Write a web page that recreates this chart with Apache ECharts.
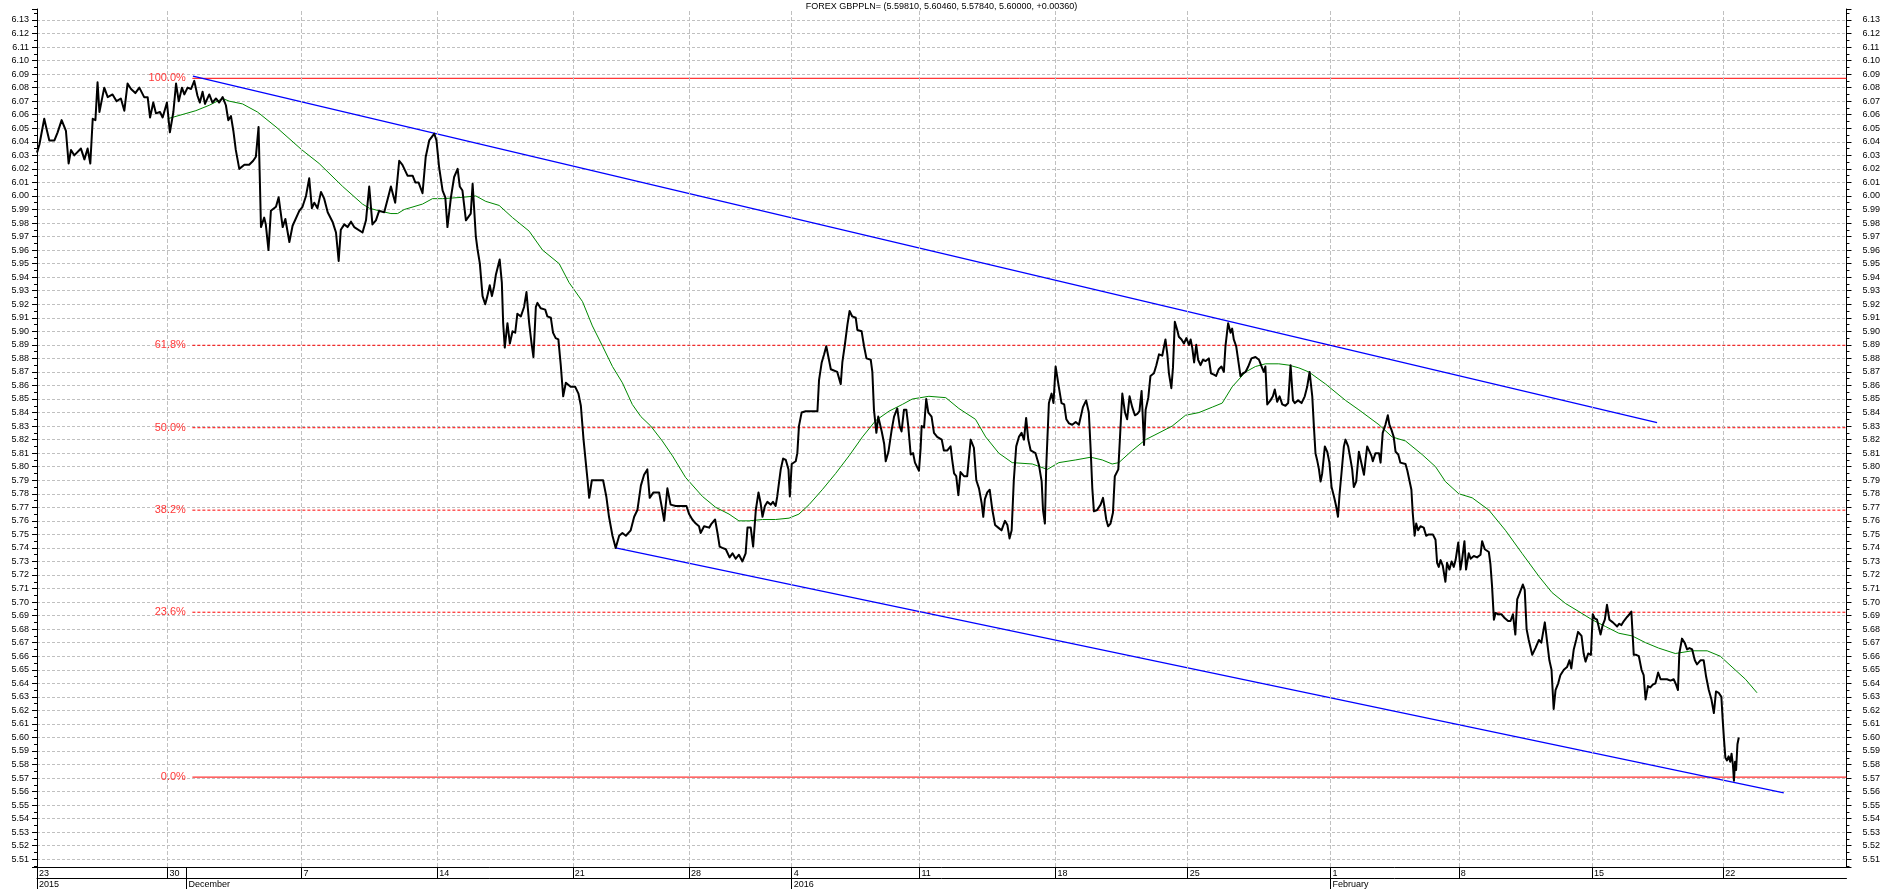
<!DOCTYPE html>
<html><head><meta charset="utf-8">
<script src="https://cdn.jsdelivr.net/npm/echarts@6/dist/echarts.min.js"></script>
<style>html,body{margin:0;padding:0;background:#fff}#c{width:1883px;height:889px}</style>
</head><body><div id="c"></div>
<script>
// ---------- data ----------
const titleText = 'FOREX GBPPLN= (5.59810, 5.60460, 5.57840, 5.60000, +0.00360)';
// x unit = trading days since Mon 23 Nov 2015
const weekDays   = [0, 4.87, 9.87, 14.94, 20.0, 24.34, 28.17, 32.94, 38.02, 42.95, 48.28, 53.07, 58.04, 62.94];
const weekLabels = ['23','30','7','14','21','28','4','11','18','25','1','8','15','22'];
const monthDays   = [0, 5.58, 28.17, 48.28];
const monthLabels = ['2015','December','2016','February'];
const xMax = 67.54;
const yMin = 5.5043, yMax = 6.1381;

const pricePoints = [
[0.00,6.032],[0.09,6.038],[0.27,6.057],[0.34,6.051],[0.46,6.041],[0.65,6.041],[0.77,6.047],[0.92,6.056],[1.08,6.048],[1.18,6.024],[1.27,6.034],[1.39,6.030],[1.64,6.035],[1.77,6.027],[1.89,6.035],[1.99,6.024],[2.08,6.057],[2.18,6.056],[2.26,6.084],[2.33,6.062],[2.39,6.068],[2.51,6.080],[2.64,6.073],[2.82,6.075],[2.97,6.070],[3.13,6.072],[3.26,6.063],[3.38,6.083],[3.51,6.079],[3.67,6.076],[3.82,6.080],[4.00,6.073],[4.13,6.073],[4.22,6.058],[4.34,6.069],[4.44,6.061],[4.59,6.062],[4.69,6.058],[4.85,6.069],[4.96,6.047],[5.09,6.062],[5.19,6.083],[5.29,6.070],[5.41,6.080],[5.50,6.075],[5.62,6.080],[5.75,6.079],[5.87,6.085],[5.99,6.074],[6.08,6.069],[6.18,6.077],[6.27,6.068],[6.43,6.075],[6.55,6.069],[6.68,6.072],[6.80,6.069],[6.93,6.073],[7.05,6.067],[7.14,6.056],[7.24,6.059],[7.33,6.048],[7.42,6.034],[7.55,6.020],[7.74,6.023],[7.92,6.023],[8.07,6.026],[8.17,6.029],[8.27,6.051],[8.36,5.977],[8.48,5.984],[8.54,5.979],[8.64,5.960],[8.73,5.989],[8.92,5.992],[9.02,5.999],[9.17,5.977],[9.27,5.983],[9.42,5.966],[9.54,5.978],[9.79,5.989],[9.91,5.992],[10.04,6.000],[10.16,6.013],[10.26,5.991],[10.35,5.995],[10.47,5.991],[10.60,6.003],[10.72,5.998],[10.85,5.988],[11.03,5.981],[11.16,5.973],[11.26,5.952],[11.34,5.975],[11.47,5.979],[11.59,5.977],[11.72,5.981],[11.84,5.977],[12.15,5.973],[12.28,5.982],[12.40,6.007],[12.52,5.979],[12.65,5.982],[12.77,5.989],[12.96,5.988],[13.08,5.997],[13.21,6.007],[13.37,5.995],[13.52,6.026],[13.64,6.023],[13.83,6.015],[14.02,6.015],[14.12,6.010],[14.24,6.010],[14.39,6.002],[14.51,6.029],[14.64,6.041],[14.83,6.046],[14.91,6.041],[15.01,6.021],[15.14,6.004],[15.24,5.999],[15.32,5.977],[15.45,5.999],[15.57,6.014],[15.70,6.020],[15.78,6.007],[15.88,6.004],[16.01,5.982],[16.19,5.987],[16.26,6.009],
[16.38,5.970],[16.44,5.961],[16.53,5.950],[16.63,5.926],[16.73,5.920],[16.81,5.926],[16.90,5.934],[16.98,5.926],[17.06,5.933],[17.13,5.942],[17.27,5.953],[17.35,5.936],[17.40,5.906],[17.46,5.888],[17.56,5.906],[17.65,5.891],[17.75,5.900],[17.85,5.899],[17.93,5.913],[18.06,5.911],[18.18,5.918],[18.27,5.929],[18.37,5.906],[18.46,5.891],[18.53,5.881],[18.62,5.918],[18.68,5.921],[18.80,5.917],[18.97,5.916],[19.05,5.911],[19.18,5.910],[19.26,5.899],[19.36,5.895],[19.46,5.894],[19.55,5.875],[19.64,5.852],[19.74,5.862],[19.92,5.859],[20.09,5.859],[20.21,5.854],[20.30,5.845],[20.40,5.820],[20.48,5.804],[20.55,5.790],[20.61,5.777],[20.71,5.790],[20.92,5.790],[21.13,5.790],[21.25,5.778],[21.35,5.763],[21.48,5.749],[21.60,5.740],[21.73,5.749],[21.85,5.751],[21.98,5.749],[22.16,5.753],[22.29,5.763],[22.41,5.768],[22.54,5.786],[22.66,5.794],[22.78,5.798],[22.87,5.777],[23.01,5.781],[23.22,5.781],[23.34,5.768],[23.41,5.760],[23.53,5.784],[23.65,5.772],[23.84,5.771],[24.24,5.771],[24.34,5.765],[24.46,5.761],[24.59,5.758],[24.71,5.756],[24.77,5.751],[24.90,5.756],[25.09,5.755],[25.18,5.758],[25.31,5.761],[25.40,5.751],[25.48,5.741],[25.58,5.740],[25.71,5.739],[25.85,5.733],[25.96,5.736],[26.08,5.732],[26.20,5.735],[26.33,5.730],[26.45,5.736],[26.52,5.755],[26.64,5.755],[26.73,5.741],[26.83,5.768],[26.93,5.781],[27.01,5.773],[27.08,5.763],[27.17,5.771],[27.26,5.774],[27.39,5.772],[27.47,5.774],[27.57,5.771],[27.63,5.778],[27.76,5.798],[27.85,5.806],[27.95,5.805],[28.05,5.798],[28.10,5.778],[28.17,5.802],[28.32,5.804],[28.38,5.810],[28.44,5.830],[28.54,5.840],[28.69,5.841],[29.13,5.841],[29.19,5.864],[29.29,5.877],[29.38,5.883],[29.46,5.889],[29.54,5.881],[29.63,5.872],[29.87,5.870],[29.94,5.869],[30.00,5.861],[30.06,5.877],[30.16,5.891],[30.25,5.905],[30.33,5.915],[30.43,5.911],[30.56,5.910],[30.62,5.901],[30.78,5.900],[30.87,5.889],[30.96,5.880],[31.12,5.879],[31.18,5.870],[31.24,5.842],[31.33,5.825],[31.40,5.837],[31.53,5.826],[31.62,5.817],[31.68,5.804],[31.78,5.811],[31.90,5.827],[31.99,5.837],[32.11,5.843],[32.20,5.830],[32.27,5.826],[32.36,5.842],[32.45,5.842],[32.52,5.830],[32.61,5.809],[32.70,5.810],[32.77,5.803],[32.92,5.797],[32.98,5.813],
[33.02,5.830],[33.11,5.829],[33.19,5.850],[33.27,5.840],[33.39,5.837],[33.48,5.825],[33.60,5.822],[33.77,5.820],[33.85,5.812],[33.98,5.812],[34.10,5.815],[34.16,5.805],[34.23,5.795],[34.31,5.793],[34.39,5.779],[34.47,5.796],[34.60,5.793],[34.72,5.793],[34.79,5.794],[34.85,5.820],[34.97,5.814],[35.06,5.790],[35.16,5.784],[35.26,5.773],[35.32,5.763],[35.38,5.776],[35.47,5.781],[35.56,5.783],[35.66,5.768],[35.76,5.757],[35.88,5.755],[36.00,5.753],[36.13,5.760],[36.22,5.757],[36.30,5.747],[36.38,5.753],[36.46,5.790],[36.55,5.815],[36.65,5.822],[36.75,5.825],[36.84,5.820],[36.92,5.836],[37.00,5.820],[37.09,5.812],[37.27,5.810],[37.40,5.801],[37.50,5.789],[37.55,5.768],[37.62,5.758],[37.67,5.800],[37.77,5.847],[37.87,5.854],[37.94,5.847],[38.02,5.874],[38.08,5.875],[38.14,5.859],[38.24,5.847],[38.34,5.846],[38.42,5.835],[38.52,5.832],[38.64,5.831],[38.77,5.833],[38.89,5.831],[39.04,5.844],[39.16,5.849],[39.26,5.840],[39.33,5.812],[39.39,5.784],[39.45,5.767],[39.57,5.768],[39.70,5.772],[39.79,5.777],[39.86,5.768],[39.91,5.761],[39.98,5.756],[40.07,5.758],[40.16,5.766],[40.23,5.793],[40.36,5.798],[40.44,5.828],[40.51,5.854],[40.61,5.840],[40.69,5.835],[40.78,5.852],[40.88,5.844],[40.98,5.838],[41.07,5.839],[41.15,5.841],[41.23,5.856],[41.32,5.816],[41.38,5.842],[41.48,5.851],[41.56,5.867],[41.69,5.869],[41.78,5.875],[41.88,5.883],[42.00,5.882],[42.12,5.894],[42.19,5.883],[42.25,5.869],[42.34,5.858],[42.40,5.873],[42.47,5.907],[42.56,5.901],[42.62,5.896],[42.72,5.894],[42.81,5.891],[42.90,5.895],[43.00,5.890],[43.06,5.894],[43.12,5.888],[43.19,5.877],[43.27,5.890],[43.34,5.879],[43.43,5.875],[43.52,5.879],[43.62,5.878],[43.74,5.880],[43.82,5.869],[43.93,5.868],[44.01,5.867],[44.11,5.872],[44.21,5.874],[44.30,5.870],[44.36,5.889],[44.46,5.906],[44.55,5.899],[44.61,5.902],[44.67,5.894],[44.76,5.889],[44.84,5.878],[44.92,5.867],[45.01,5.869],[45.11,5.870],[45.21,5.874],[45.33,5.880],[45.48,5.881],[45.61,5.879],[45.71,5.874],[45.79,5.870],[45.85,5.874],[45.92,5.846],[46.04,5.849],[46.13,5.852],[46.20,5.857],[46.29,5.848],[46.38,5.852],[46.48,5.846],[46.60,5.845],[46.70,5.847],[46.79,5.875],[46.88,5.849],[46.95,5.847],[47.07,5.849],[47.20,5.847],[47.32,5.852],[47.41,5.859],[47.50,5.870],[47.57,5.869],
[47.60,5.852],[47.66,5.830],[47.72,5.810],[47.78,5.805],[47.85,5.798],[47.91,5.789],[47.97,5.795],[48.07,5.815],[48.16,5.811],[48.24,5.803],[48.32,5.785],[48.41,5.778],[48.49,5.771],[48.56,5.763],[48.62,5.780],[48.69,5.795],[48.78,5.815],[48.84,5.820],[48.94,5.815],[49.03,5.805],[49.09,5.798],[49.15,5.785],[49.24,5.789],[49.34,5.811],[49.53,5.794],[49.59,5.805],[49.65,5.815],[49.81,5.808],[49.86,5.804],[49.96,5.810],
[50.09,5.810],[50.15,5.803],[50.23,5.825],[50.33,5.831],[50.42,5.838],[50.48,5.831],[50.56,5.827],[50.64,5.822],[50.71,5.811],[50.81,5.809],[50.89,5.803],[51.08,5.802],[51.15,5.797],[51.30,5.783],[51.35,5.766],[51.42,5.749],[51.48,5.758],[51.55,5.753],[51.64,5.756],[51.76,5.755],[51.85,5.749],[51.95,5.750],[52.10,5.750],[52.20,5.746],[52.26,5.729],[52.32,5.726],[52.39,5.731],[52.47,5.727],[52.57,5.715],[52.63,5.729],[52.72,5.724],[52.80,5.730],[52.88,5.726],[52.95,5.731],[53.05,5.744],[53.13,5.724],[53.19,5.731],[53.28,5.745],[53.34,5.724],[53.44,5.736],[53.51,5.732],[53.63,5.734],[53.75,5.733],[53.88,5.735],[53.94,5.745],[54.04,5.739],[54.19,5.737],[54.25,5.728],[54.31,5.712],[54.38,5.687],[54.44,5.692],[54.54,5.691],[54.66,5.691],[54.79,5.688],[54.91,5.686],[55.00,5.686],[55.09,5.691],[55.18,5.676],[55.25,5.702],[55.33,5.706],[55.46,5.713],[55.53,5.709],[55.60,5.680],[55.68,5.672],[55.81,5.661],[55.93,5.666],[56.06,5.672],[56.15,5.670],[56.28,5.685],[56.37,5.670],[56.45,5.657],[56.53,5.650],[56.61,5.621],[56.68,5.635],[56.78,5.640],[56.86,5.646],[56.99,5.650],[57.11,5.652],[57.20,5.657],[57.27,5.651],[57.36,5.665],[57.45,5.672],[57.52,5.678],[57.65,5.675],[57.73,5.662],[57.80,5.656],[57.90,5.662],[58.00,5.661],[58.07,5.691],[58.14,5.688],[58.23,5.687],[58.36,5.676],[58.44,5.683],[58.52,5.687],[58.60,5.698],[58.69,5.687],[58.82,5.685],[58.98,5.682],[59.06,5.684],[59.14,5.683],[59.23,5.686],[59.35,5.689],[59.44,5.691],[59.51,5.693],[59.60,5.661],[59.69,5.661],[59.79,5.660],[59.89,5.650],[59.97,5.646],[60.04,5.628],[60.13,5.638],[60.22,5.637],[60.31,5.639],[60.41,5.640],[60.51,5.648],[60.60,5.643],[60.72,5.643],[60.84,5.643],[60.97,5.642],[61.09,5.643],[61.18,5.639],[61.25,5.635],[61.30,5.662],[61.40,5.673],[61.50,5.670],[61.59,5.665],[61.68,5.666],[61.78,5.665],[61.88,5.657],[61.96,5.654],[62.09,5.657],[62.21,5.657],[62.30,5.645],[62.40,5.635],[62.50,5.628],[62.59,5.618],[62.67,5.634],[62.77,5.633],[62.87,5.630],[62.92,5.613],
[62.97,5.598],[63.02,5.585],[63.08,5.583],[63.14,5.586],[63.20,5.582],[63.25,5.588],[63.30,5.580],[63.34,5.568],[63.38,5.582],[63.42,5.576],[63.47,5.595],[63.52,5.600]
];

const maPoints = [
[4.87,6.057],[5.93,6.063],[6.43,6.067],[6.93,6.072],[7.18,6.070],[7.67,6.068],[8.23,6.062],[8.92,6.051],[9.89,6.034],[10.53,6.024],[11.41,6.007],[12.15,5.994],[12.40,5.991],[12.77,5.989],[13.21,5.987],[13.46,5.987],[13.71,5.990],[14.39,5.994],[14.76,5.998],[15.14,5.998],[15.88,5.999],[16.38,6.000],[16.75,5.996],[17.25,5.993],[17.75,5.984],[18.37,5.974],[18.87,5.960],[19.49,5.950],[19.86,5.936],[20.36,5.922],[20.73,5.904],[21.11,5.889],[21.48,5.874],[21.85,5.862],[22.22,5.846],[22.54,5.837],[22.91,5.830],[23.34,5.819],[23.72,5.808],[24.21,5.792],[24.84,5.778],[25.33,5.770],[25.83,5.765],[26.20,5.760],[26.58,5.760],[27.08,5.761],[27.57,5.761],[28.07,5.762],[28.44,5.765],[28.82,5.772],[29.31,5.783],[29.81,5.795],[30.31,5.808],[30.81,5.822],[31.30,5.834],[31.80,5.841],[32.30,5.846],[32.67,5.850],[33.29,5.852],[33.92,5.851],[34.41,5.843],[35.03,5.835],[35.41,5.822],[35.90,5.810],[36.40,5.803],[37.15,5.802],[37.71,5.798],[38.14,5.803],[38.77,5.805],[39.33,5.807],[39.76,5.805],[40.13,5.802],[40.38,5.803],[40.88,5.812],[41.38,5.820],[41.88,5.825],[42.37,5.830],[42.87,5.838],[43.37,5.840],[43.87,5.844],[44.24,5.847],[44.61,5.859],[45.11,5.870],[45.48,5.874],[45.85,5.876],[46.35,5.876],[46.73,5.875],[47.10,5.873],[47.47,5.870],[48.10,5.861],[48.84,5.849],[49.34,5.842],[50.09,5.831],[50.58,5.822],[51.08,5.819],[51.70,5.809],[52.20,5.800],[52.57,5.789],[53.07,5.780],[53.57,5.777],[54.19,5.768],[54.81,5.753],[55.43,5.736],[56.06,5.719],[56.55,5.707],[57.05,5.699],[57.55,5.693],[58.04,5.687],[58.54,5.682],[59.04,5.677],[59.54,5.675],[60.04,5.670],[60.53,5.666],[61.15,5.662],[61.78,5.664],[62.34,5.664],[62.83,5.660],[63.27,5.652],[63.77,5.643],[64.20,5.633]
];

const upperChannel = [[5.82, 6.0885], [60.47, 5.8325]];
const lowerChannel = [[21.60, 5.740], [65.20, 5.559]];

const fibLabels = ['100.0%', '61.8%', '50.0%', '38.2%', '23.6%', '0.0%'];
const fibValues = [6.0869, 5.8897, 5.8288, 5.7679, 5.6925, 5.5707];
const fibSolid  = [true, false, false, false, false, true];
const fibStart = 5.80;

// ---------- chart ----------
const FONT = '"Liberation Sans", Arial, sans-serif';
const chart = echarts.init(document.getElementById('c'), null, {renderer: 'canvas'});

function nearestIdx(arr, v) {
  let best = 0;
  for (let i = 1; i < arr.length; i++) if (Math.abs(arr[i] - v) < Math.abs(arr[best] - v)) best = i;
  return best;
}
function yLabel(v) {
  const s = v * 100;
  return Math.abs(s - Math.round(s)) < 1e-6 ? v.toFixed(2) : '';
}
const yBase = {
  type: 'value', min: yMin, max: yMax, splitNumber: 63,
  axisLine: {show: true, onZero: false, lineStyle: {color: '#000', width: 1}},
  axisTick: {show: true, length: 5, lineStyle: {color: '#000'}},
  minorTick: {show: true, splitNumber: 2, length: 3, lineStyle: {color: '#000'}},
};

const series = [];
// vertical week grid lines
series.push({
  type: 'line', data: [], z: 1, silent: true,
  markLine: {
    silent: true, symbol: ['none', 'none'], animation: false,
    label: {show: false},
    lineStyle: {color: '#c0c0c0', type: [4, 2], width: 1},
    data: weekDays.slice(1).map(d => ({xAxis: d}))
  }
});
// fib levels
fibValues.forEach((v, i) => {
  series.push({
    type: 'line', z: 3, silent: true, showSymbol: false, symbol: 'none',
    data: [[fibStart, v], [xMax, v]],
    lineStyle: {color: '#ff0000', width: 1, type: fibSolid[i] ? 'solid' : [3, 2]}
  });
});
series.push({
  type: 'scatter', z: 6, silent: true, symbolSize: 1,
  itemStyle: {color: 'rgba(0,0,0,0)'},
  data: fibValues.map((v, i) => [fibStart, v, fibLabels[i]]),
  label: {show: true, position: 'left', distance: 6, color: '#ff0000', fontSize: 11,
          fontFamily: FONT, formatter: p => p.value[2]}
});
// channel
[upperChannel, lowerChannel].forEach(c => series.push({
  type: 'line', z: 4, silent: true, showSymbol: false, symbol: 'none', data: c,
  lineStyle: {color: '#0000ff', width: 1.2}
}));
// moving average
series.push({
  type: 'line', z: 4, silent: true, showSymbol: false, symbol: 'none', data: maPoints,
  lineStyle: {color: '#008800', width: 1}
});
// price
series.push({
  type: 'line', z: 5, silent: true, showSymbol: false, symbol: 'none', data: pricePoints,
  lineStyle: {color: '#000', width: 2, join: 'round'}
});

chart.setOption({
  animation: false,
  backgroundColor: '#fff',
  title: {
    text: titleText, left: 'center', top: 2, padding: 0,
    textStyle: {fontSize: 9, fontWeight: 'normal', color: '#000', fontFamily: FONT}
  },
  grid: {left: 37, right: 36, top: 9, bottom: 22, containLabel: false},
  xAxis: [
    {
      type: 'value', min: 0, max: xMax, position: 'bottom',
      axisLine: {show: true, onZero: false, lineStyle: {color: '#000', width: 1}},
      axisTick: {show: true, length: 11, customValues: weekDays.concat([monthDays[1]]), lineStyle: {color: '#000'}},
      axisLabel: {show: true, customValues: weekDays, align: 'left', margin: 2, padding: [0, 0, 0, 2],
                  fontSize: 9, color: '#000', fontFamily: FONT,
                  formatter: v => weekLabels[nearestIdx(weekDays, v)]},
      splitLine: {show: false}
    },
    {
      type: 'value', min: 0, max: xMax, position: 'bottom', offset: 11,
      axisLine: {show: true, onZero: false, lineStyle: {color: '#000', width: 1}},
      axisTick: {show: true, length: 11, customValues: monthDays, lineStyle: {color: '#000'}},
      axisLabel: {show: true, customValues: monthDays, align: 'left', margin: 2, padding: [0, 0, 0, 2],
                  fontSize: 9, color: '#000', fontFamily: FONT,
                  formatter: v => monthLabels[nearestIdx(monthDays, v)]},
      splitLine: {show: false}
    }
  ],
  yAxis: [
    Object.assign({}, yBase, {
      position: 'left',
      axisLabel: {show: true, interval: 0, margin: 8, fontSize: 9, color: '#000', fontFamily: FONT, formatter: yLabel},
      splitLine: {show: true, showMinLine: false, showMaxLine: false, lineStyle: {color: '#c0c0c0', type: [3, 2], width: 1}}
    }),
    Object.assign({}, yBase, {
      position: 'right',
      axisLabel: {show: true, interval: 0, margin: 16, fontSize: 9, color: '#000', fontFamily: FONT, formatter: yLabel},
      splitLine: {show: false}
    })
  ],
  series: series
});
</script>
</body></html>
